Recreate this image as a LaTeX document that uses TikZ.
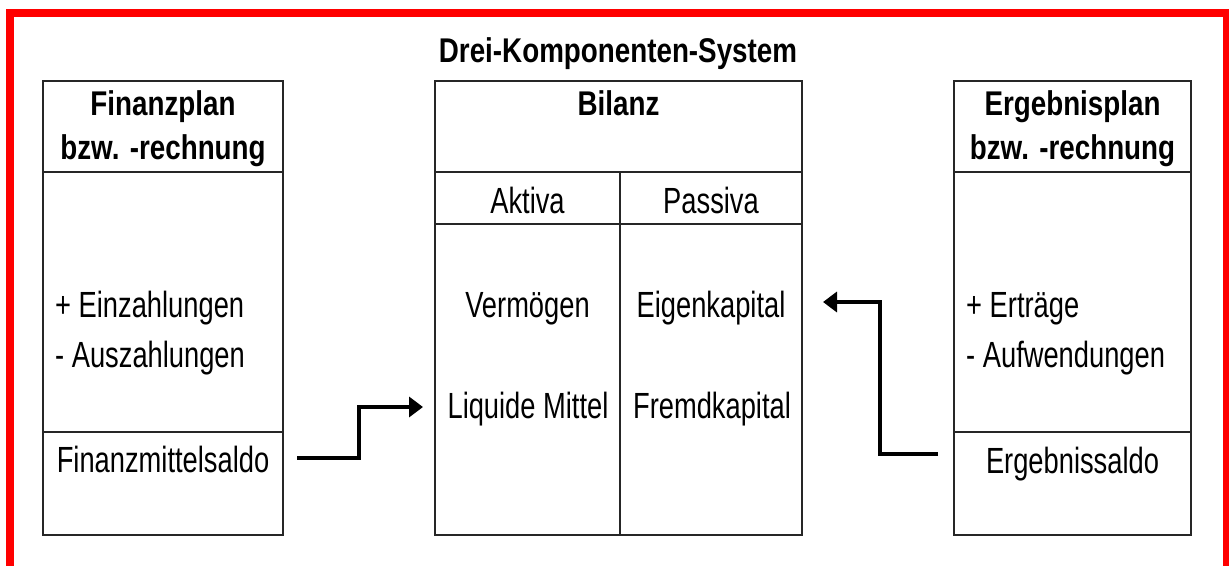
\documentclass[tikz,border=0pt]{standalone}
\usepackage{fontspec}
\setmainfont{Liberation Sans}
\newfontfamily\regfont[FakeStretch=0.75]{Liberation Sans}
\newfontfamily\hdfont[FakeStretch=0.81]{Liberation Sans}
\usetikzlibrary{arrows.meta}
\begin{document}
\begin{tikzpicture}[x=1pt,y=-1pt,
  cellbox/.style={draw=black!85, line width=1.6pt, inner sep=0pt, outer sep=0pt, rectangle},
  hd/.style={anchor=base, inner sep=0pt, font=\hdfont\bfseries\fontsize{34.3}{38}\selectfont},
  rg/.style={anchor=base, inner sep=0pt, font=\regfont\fontsize{36.4}{40}\selectfont},
  rgl/.style={rg, anchor=base west},
  flow/.style={line width=4pt, -{Triangle[length=14pt,width=20pt]}}
]
\useasboundingbox (0,0) rectangle (1229,565);
\draw[red, line width=8pt] (10,600) -- (10,12.5) -- (1227,12.5) -- (1227,600);

% left box
\node[cellbox, minimum width=240pt, minimum height=91pt] (fphead) at (163,126.5) {};
\node[cellbox, minimum width=240pt, minimum height=260pt] (fpbody) at (163,302) {};
\node[cellbox, minimum width=240pt, minimum height=103pt] (fpsaldo) at (163,483.5) {};
% middle box
\node[cellbox, minimum width=367pt, minimum height=91pt] (bilhead) at (618.5,126.5) {};
\node[cellbox, minimum width=185pt, minimum height=52pt] (akt) at (527.5,198) {};
\node[cellbox, minimum width=182pt, minimum height=52pt] (pas) at (711,198) {};
\node[cellbox, minimum width=185pt, minimum height=311pt] (aktbody) at (527.5,379.5) {};
\node[cellbox, minimum width=182pt, minimum height=311pt] (pasbody) at (711,379.5) {};
% right box
\node[cellbox, minimum width=237pt, minimum height=91pt] (ephead) at (1072.5,126.5) {};
\node[cellbox, minimum width=237pt, minimum height=260pt] (epbody) at (1072.5,302) {};
\node[cellbox, minimum width=237pt, minimum height=103pt] (epsaldo) at (1072.5,483.5) {};

% texts
\node[hd] (title) at (618,62) {Drei-Komponenten-System};
\node[hd] (fp1) at (163,115) {Finanzplan};
\node[hd] (fp2) at (163,159) {bzw. -rechnung};
\node[hd] (bil) at (618.5,115) {Bilanz};
\node[hd] (ep1) at (1072.5,115) {Ergebnisplan};
\node[hd] (ep2) at (1072.5,159) {bzw. -rechnung};

\node[rg] (aktt) at (527.5,213) {Aktiva};
\node[rg] (past) at (711,213) {Passiva};
\node[rg] (verm) at (527.5,317) {Vermögen};
\node[rg] (liq) at (528,418) {Liquide Mittel};
\node[rg] (eig) at (711,317) {Eigenkapital};
\node[rg] (fremd) at (712,418) {Fremdkapital};

\node[rgl] (einz) at (55,317) {+ Einzahlungen};
\node[rgl] (ausz) at (55,367) {- Auszahlungen};
\node[rg] (fms) at (163,472) {Finanzmittelsaldo};

\node[rgl] (ertr) at (966,317) {+ Erträge};
\node[rgl] (aufw) at (966,367) {- Aufwendungen};
\node[rg] (ergs) at (1072.5,473) {Ergebnissaldo};

% connectors
\coordinate (a1s) at (297,458);
\coordinate (a1e) at (423,407);
\draw[flow] (a1s) -- (359,458) |- (a1e);
\coordinate (a2s) at (938,454);
\coordinate (a2e) at (823,302);
\draw[flow] (a2s) -- (880,454) |- (a2e);
\end{tikzpicture}
\end{document}
